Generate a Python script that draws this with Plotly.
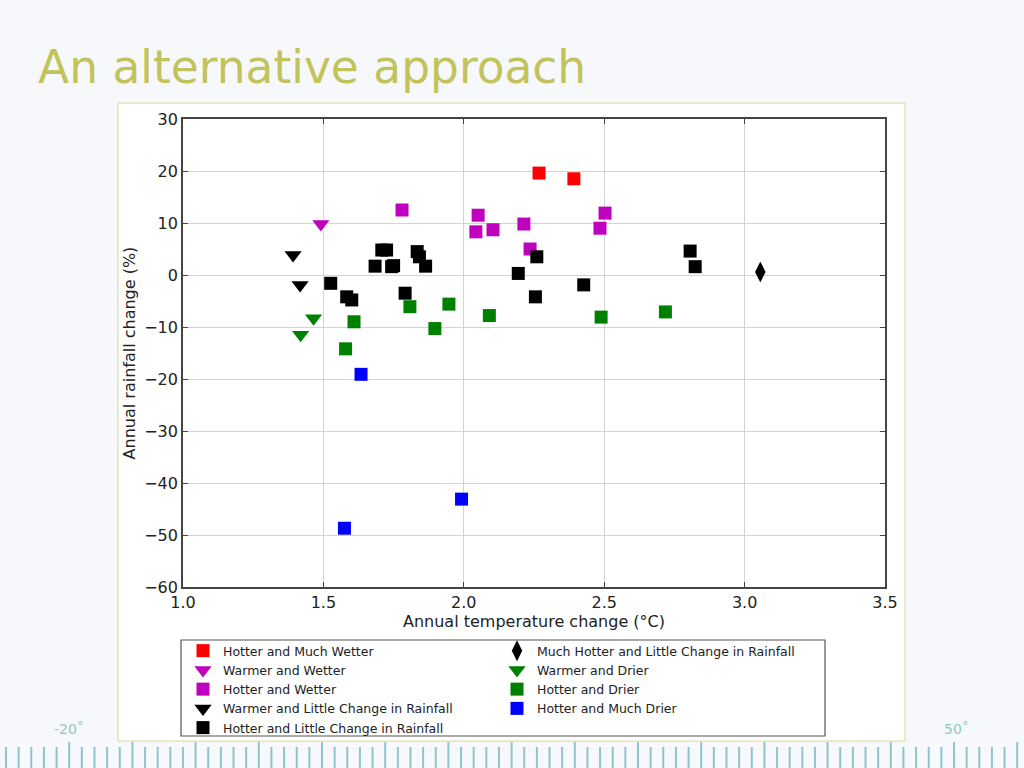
import plotly.graph_objects as go

W, H = 1024, 768

# ---- data (temperature change °C, rainfall change %) ----
hmw_x = [2.268, 2.392]
hmw_y = [19.6, 18.5]

ww_x = [1.491]
ww_y = [9.8]

hw_x = [1.780, 2.051, 2.043, 2.104, 2.214, 2.236, 2.503, 2.485]
hw_y = [12.5, 11.5, 8.3, 8.7, 9.8, 5.0, 11.9, 9.0]

wlc_x = [1.392, 1.417]
wlc_y = [3.85, -1.9]

hlc_x = [1.526, 1.583, 1.601, 1.708, 1.725, 1.684, 1.743, 1.750, 1.834, 1.842,
         1.864, 1.791, 2.194, 2.260, 2.255, 2.427, 2.806, 2.824]
hlc_y = [-1.6, -4.2, -4.8, 4.8, 4.8, 1.7, 1.6, 1.8, 4.5, 3.5,
         1.7, -3.5, 0.3, 3.5, -4.2, -1.9, 4.6, 1.6]

mhlc_x = [3.056]
mhlc_y = [0.6]

wd_x = [1.465, 1.419]
wd_y = [-8.3, -11.5]

hd_x = [1.609, 1.579, 1.808, 1.947, 1.897, 2.091, 2.489, 2.718]
hd_y = [-9.0, -14.2, -6.1, -5.6, -10.3, -7.8, -8.1, -7.1]

hmd_x = [1.634, 1.992, 1.575]
hmd_y = [-19.1, -43.1, -48.7]

x_ticks = [1.0, 1.5, 2.0, 2.5, 3.0, 3.5]
y_ticks = [30, 20, 10, 0, -10, -20, -30, -40, -50, -60]


def X(px):
    return px / W


def Y(py):
    return 1 - py / H


FONT = "DejaVu Sans, Verdana, sans-serif"

series = [
    # name, x, y, symbol, color, size, legend
    ("Hotter and Much Wetter", hmw_x, hmw_y, "square", "#ff0000", 13, "legend"),
    ("Warmer and Wetter", ww_x, ww_y, "triangle-down", "#bf00bf", 15, "legend"),
    ("Hotter and Wetter", hw_x, hw_y, "square", "#bf00bf", 13, "legend"),
    ("Warmer and Little Change in Rainfall", wlc_x, wlc_y, "triangle-down", "#000000", 15, "legend"),
    ("Hotter and Little Change in Rainfall", hlc_x, hlc_y, "square", "#000000", 13, "legend"),
    ("Much Hotter and Little Change in Rainfall", mhlc_x, mhlc_y, "diamond-tall", "#000000", 15, "legend2"),
    ("Warmer and Drier", wd_x, wd_y, "triangle-down", "#008000", 15, "legend2"),
    ("Hotter and Drier", hd_x, hd_y, "square", "#008000", 13, "legend2"),
    ("Hotter and Much Drier", hmd_x, hmd_y, "square", "#0000ff", 13, "legend2"),
]

fig = go.Figure()
for name, xs, ys, sym, col, sz, lg in series:
    fig.add_trace(go.Scatter(
        x=xs, y=ys, mode="markers", name=name, legend=lg,
        marker=dict(symbol=sym, color=col, size=sz, line=dict(width=0)),
    ))

shapes = []
# white content frame
shapes.append(dict(type="rect", xref="paper", yref="paper",
                   x0=X(118), x1=X(905), y0=Y(741), y1=Y(103),
                   line=dict(color="#d6d69c", width=1), fillcolor="white", layer="below"))
# legend box
shapes.append(dict(type="rect", xref="paper", yref="paper",
                   x0=X(181), x1=X(825), y0=Y(736), y1=Y(640),
                   line=dict(color="#555555", width=1.2), fillcolor="rgba(0,0,0,0)", layer="above"))
# ruler at bottom
i = 0
while True:
    px = 6 + 12.64 * i
    if px > W:
        break
    tall = (i % 5 == 0) and i > 0
    shapes.append(dict(type="line", xref="paper", yref="paper",
                       x0=X(px), x1=X(px), y0=Y(768), y1=Y(742 if tall else 747),
                       line=dict(color="#8fc4cc", width=2)))
    i += 1

annotations = [
    dict(text="An alternative approach", xref="paper", yref="paper",
         x=X(36), y=Y(68), xanchor="left", yanchor="middle", showarrow=False,
         font=dict(family=FONT, size=45.5, color="#c2c35a")),
    dict(text="-20˚", xref="paper", yref="paper", x=X(69), y=Y(729),
         xanchor="center", yanchor="middle", showarrow=False,
         font=dict(family=FONT, size=14, color="#8fc8c4")),
    dict(text="50˚", xref="paper", yref="paper", x=X(956), y=Y(729),
         xanchor="center", yanchor="middle", showarrow=False,
         font=dict(family=FONT, size=14, color="#8fc8c4")),
]

axis_common = dict(
    automargin=False,
    showline=True, linecolor="#444444", linewidth=1.8, mirror="ticks",
    ticks="inside", ticklen=5, tickcolor="#444444", tickwidth=1,
    showgrid=True, gridcolor="#d3d3d3", gridwidth=1, zeroline=False,
    tickfont=dict(family=FONT, size=16, color="#222222"),
)

fig.update_layout(
    template="none",
    width=W, height=H, autosize=False,
    margin=dict(l=0, r=0, t=0, b=0, pad=0),
    paper_bgcolor="#f7f8fb",
    plot_bgcolor="white",
    font=dict(family=FONT, color="#222222"),
    shapes=shapes,
    annotations=annotations,
    xaxis=dict(domain=[X(183), X(885)], range=[1.0, 3.5], tickvals=x_ticks,
               tickformat=".1f",
               title=dict(text="Annual temperature change (°C)", standoff=0,
                          font=dict(family=FONT, size=16, color="#222222")),
               **axis_common),
    yaxis=dict(domain=[Y(587), Y(119)], range=[-60, 30], tickvals=y_ticks,
               title=dict(text="Annual rainfall change (%)", standoff=5,
                          font=dict(family=FONT, size=16, color="#222222")),
               **axis_common),
    legend=dict(x=X(183), y=Y(636), xanchor="left", yanchor="top",
                bgcolor="rgba(0,0,0,0)", borderwidth=0, itemwidth=30,
                font=dict(family=FONT, size=12.5, color="#222222"),
                tracegroupgap=0, itemclick=False),
    legend2=dict(x=X(497), y=Y(636), xanchor="left", yanchor="top",
                 bgcolor="rgba(0,0,0,0)", borderwidth=0, itemwidth=30,
                 font=dict(family=FONT, size=12.5, color="#222222"),
                 tracegroupgap=0, itemclick=False),
    showlegend=True,
)

post = ("document.body.style.margin='0';document.body.style.padding='0';"
        "document.body.style.overflow='hidden';"
        "var gd=document.getElementById('{plot_id}');"
        "Plotly.relayout(gd,{width:1024,height:768});")

fig.write_html("out.html", config={"responsive": False, "displayModeBar": False},
               post_script=post)
